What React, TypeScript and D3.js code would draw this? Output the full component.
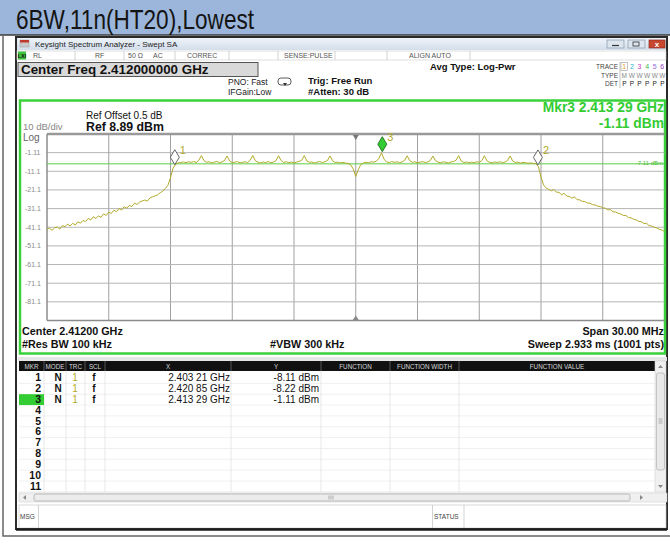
import React, { Component } from 'react'
import * as d3 from 'd3'

const W = 670
const H = 550

const titleText = '6BW,11n(HT20),Lowest'

const centerGHz = 2.412
const spanMHz = 30
const refLevel = 8.89
const dbPerDiv = 10
const levelLabels = ['-1.11', '-11.1', '-21.1', '-31.1', '-41.1', '-51.1', '-61.1', '-71.1', '-81.1']
const displayLine = -7.11

// trace, one value every 0.125 MHz from the start freq (8 per MHz row)
const stepMHz = 0.125
const traceLevels = [
	-42.3, -41.6, -42.8, -41.3, -41.0, -42.1, -40.2, -40.9,
	-39.4, -40.4, -39.0, -39.9, -38.2, -38.9, -37.4, -38.1,
	-36.4, -37.2, -35.5, -36.4, -35.0, -35.8, -33.9, -34.8,
	-33.0, -33.7, -32.0, -32.8, -31.0, -31.9, -30.1, -30.9,
	-29.4, -30.0, -28.2, -28.9, -27.6, -27.0, -26.5, -27.1,
	-25.4, -24.8, -24.3, -23.7, -22.6, -21.8, -20.3, -18.6,
	-14.5, -9.4, -7.3, -6.6, -6.4, -6.1, -6.5, -6.0,
	-6.3, -5.9, -6.4, -5.2, -2.7, -5.4, -6.3, -6.0,
	-6.6, -6.2, -5.8, -6.4, -6.1, -5.3, -2.9, -5.6,
	-6.5, -6.2, -5.9, -6.6, -6.3, -6.0, -6.4, -5.1,
	-2.6, -5.5, -6.2, -6.7, -6.1, -6.4, -5.9, -6.5,
	-6.2, -5.4, -2.8, -5.3, -6.4, -6.0, -6.5, -6.1,
	-6.6, -6.2, -5.8, -5.2, -2.7, -5.6, -6.3, -6.1,
	-6.7, -6.2, -5.9, -6.4, -6.0, -5.3, -2.9, -5.5,
	-6.4, -6.2, -6.6, -6.3, -6.7, -6.9, -7.6, -9.8,
	-13.9, -10.2, -7.4, -6.6, -6.3, -6.5, -6.0, -6.2,
	-5.7, -4.2, -1.2, -4.6, -6.1, -6.4, -5.9, -6.3,
	-6.0, -6.5, -6.1, -5.2, -2.8, -5.5, -6.3, -6.0,
	-6.6, -6.2, -5.9, -6.4, -6.1, -5.3, -2.9, -5.4,
	-6.2, -6.5, -6.0, -6.3, -6.7, -6.1, -5.9, -5.1,
	-2.7, -5.6, -6.4, -6.1, -6.6, -6.2, -6.5, -6.0,
	-6.3, -5.4, -2.8, -5.5, -6.3, -6.6, -6.1, -6.4,
	-6.0, -6.5, -6.2, -5.3, -2.9, -5.6, -6.4, -6.2,
	-6.7, -6.3, -6.5, -6.8, -6.6, -6.9, -7.0, -8.6,
	-14.2, -18.4, -20.1, -20.8, -21.6, -20.8, -22.3, -22.4,
	-23.7, -22.9, -24.4, -24.6, -25.5, -24.8, -26.3, -26.4,
	-27.2, -27.3, -28.1, -28.2, -29.0, -29.1, -29.8, -30.0,
	-30.7, -30.9, -31.8, -31.7, -32.8, -32.9, -33.6, -34.0,
	-34.8, -34.8, -35.9, -36.1, -36.8, -37.2, -38.0, -38.1,
	-39.1, -39.0, -40.2, -40.4, -41.1, -41.5, -42.2, -42.6,
	-43.4
]

const markerIds = ['1', '2', '3']
const markerGHz = [2.40321, 2.42085, 2.41329]
const markerDbm = [-8.11, -8.22, -1.11]
const markerXText = ['2.403 21 GHz', '2.420 85 GHz', '2.413 29 GHz']
const markerYText = ['-8.11 dBm', '-8.22 dBm', '-1.11 dBm']
const activeMarker = 2

const tableHeads = ['MKR', 'MODE', 'TRC', 'SCL', 'X', 'Y', 'FUNCTION', 'FUNCTION WIDTH', 'FUNCTION VALUE']
const tableRowCount = 11

const FONT = '"Liberation Sans", Arial, sans-serif'

export default class App extends Component {
	componentDidMount () {
		const root = d3.select(this.container)
		root.selectAll('*').remove()

		const svg = root.append('svg')
			.attr('width', W)
			.attr('height', H)
			.style('position', 'absolute')
			.style('left', 0)
			.style('top', 0)
			.style('background', '#fff')
			.attr('font-family', FONT)

		const text = (g, x, y, s, size, o = {}) => {
			const t = g.append('text')
				.attr('x', x)
				.attr('y', y)
				.attr('font-size', size)
				.attr('fill', o.fill || '#111')
				.attr('text-anchor', o.anchor || 'start')
				.text(s)
			if (o.bold) t.attr('font-weight', 'bold')
			if (o.len) t.attr('textLength', o.len).attr('lengthAdjust', 'spacingAndGlyphs')
			return t
		}
		const rect = (g, x, y, w, h, fill, stroke, sw = 1) => g.append('rect')
			.attr('x', x).attr('y', y).attr('width', w).attr('height', h)
			.attr('fill', fill).attr('stroke', stroke || 'none').attr('stroke-width', sw)
		const line = (g, x1, y1, x2, y2, stroke, sw = 1) => g.append('line')
			.attr('x1', x1).attr('y1', y1).attr('x2', x2).attr('y2', y2)
			.attr('stroke', stroke).attr('stroke-width', sw)

		const defs = svg.append('defs')
		const grad = defs.append('linearGradient').attr('id', 'tbar').attr('x1', 0).attr('y1', 0).attr('x2', 0).attr('y2', 1)
		grad.append('stop').attr('offset', '0%').attr('stop-color', '#eef3f9')
		grad.append('stop').attr('offset', '100%').attr('stop-color', '#d3deeb')

		// slide title strip
		rect(svg, 0, 0, W, 35, '#9bb6da')
		line(svg, 0, 35, W, 35, '#3a3a3a', 1.5)
		text(svg, 16, 29, titleText, 28, { fill: '#141414', len: 238 })

		// outer frame
		svg.append('path').attr('d', 'M3,35 V536 H670').attr('fill', 'none').attr('stroke', '#666').attr('stroke-width', 1.5)

		// analyzer window
		rect(svg, 16, 37, 651, 492, '#fff', '#2a2a2a', 2)
		rect(svg, 17, 38, 649, 12, 'url(#tbar)')
		rect(svg, 20, 40, 9, 7, '#c9c9c9', '#999', 0.5)
		rect(svg, 20, 40, 9, 2.5, '#c0392b')
		text(svg, 35, 47, 'Keysight Spectrum Analyzer - Swept SA', 8, { fill: '#222' })
		rect(svg, 607, 40, 17, 8, '#dde5ef', '#8797ab', 0.7)
		line(svg, 612, 45.5, 619, 45.5, '#333', 1.2)
		rect(svg, 628, 40, 17, 8, '#dde5ef', '#8797ab', 0.7)
		rect(svg, 633, 42, 6, 4, 'none', '#333', 0.8)
		rect(svg, 649, 40, 16, 8, '#c8482f', '#8a2a1a', 0.7)
		text(svg, 657, 47, 'x', 8, { fill: '#fff', anchor: 'middle', bold: true })

		// status row
		rect(svg, 17, 51, 649, 9, '#fff', '#c8c8c8', 0.6)
		rect(svg, 18, 51.5, 8, 8, '#3fc43f')
		text(svg, 22, 58, 'LXI', 5.5, { fill: '#111', anchor: 'middle', bold: true })
		const statusSeps = [75, 124, 175, 229, 278, 335, 387, 470]
		statusSeps.forEach(x => line(svg, x, 51, x, 60, '#c8c8c8', 0.8))
		const statusTexts = [['RL', 33], ['RF', 95], ['50 \u03a9', 128], ['AC', 153], ['CORREC', 187], ['SENSE:PULSE', 284], ['ALIGN AUTO', 409]]
		statusTexts.forEach(([s, x]) => text(svg, x, 58, s, 7, { fill: '#555' }))

		// settings header
		rect(svg, 18, 62.5, 240, 14, '#d9d9d9', '#555', 1)
		text(svg, 21, 74, 'Center Freq 2.412000000 GHz', 13.4, { bold: true })
		text(svg, 228, 85, 'PNO: Fast', 8.5, { fill: '#222' })
		text(svg, 228, 95, 'IFGain:Low', 8.5, { fill: '#222' })
		rect(svg, 278, 78, 13, 7, '#fff', '#333', 0.8).attr('rx', 3)
		svg.append('path').attr('d', 'M283,83 L287,83 L285,86 Z').attr('fill', '#333')
		text(svg, 308, 84, 'Trig: Free Run', 9.5, { bold: true })
		text(svg, 308, 95, '#Atten: 30 dB', 9.5, { bold: true })
		text(svg, 430, 70, 'Avg Type: Log-Pwr', 9.5, { bold: true })

		text(svg, 618, 69, 'TRACE', 6.5, { fill: '#444', anchor: 'end' })
		text(svg, 618, 78, 'TYPE', 6.5, { fill: '#444', anchor: 'end' })
		text(svg, 618, 86, 'DET', 6.5, { fill: '#444', anchor: 'end' })
		line(svg, 620, 62, 620, 88, '#aaa', 0.7)
		rect(svg, 621, 62.5, 6.5, 8, 'none', '#999', 0.6)
		const traceCols = ['#e8a21c', '#1fb2c8', '#c43cc4', '#3fb34f', '#8e6ad6', '#9a45c8']
		traceCols.forEach((c, i) => {
			const x = 624.3 + i * 7.6
			text(svg, x, 69, String(i + 1), 7, { fill: c, anchor: 'middle' })
			text(svg, x, 78, i === 0 ? 'M' : 'W', 6.5, { fill: '#888', anchor: 'middle' })
			text(svg, x, 86, 'P', 6.5, { fill: '#222', anchor: 'middle' })
		})

		// display frame
		rect(svg, 20, 100.5, 645, 253, '#fff', '#3ad13a', 2.5)
		text(svg, 664, 112, 'Mkr3 2.413 29 GHz', 13.8, { bold: true, fill: '#33cc33', anchor: 'end' })
		text(svg, 664, 128, '-1.11 dBm', 13.8, { bold: true, fill: '#33cc33', anchor: 'end' })
		text(svg, 86, 119, 'Ref Offset 0.5 dB', 10, { fill: '#111' })
		text(svg, 86, 131, 'Ref 8.89 dBm', 12.3, { bold: true })
		text(svg, 23, 129.5, '10 dB/div', 9.5, { fill: '#888' })
		text(svg, 23, 140.5, 'Log', 10, { fill: '#666' })

		// scales
		const startGHz = centerGHz - spanMHz / 2000
		const stopGHz = centerGHz + spanMHz / 2000
		const x = d3.scaleLinear().domain([startGHz, stopGHz]).range([47, 664.5])
		const y = d3.scaleLinear().domain([refLevel, refLevel - 10 * dbPerDiv]).range([134, 320.5])

		const grid = svg.append('g')
		d3.range(1, 10).forEach(i => {
			const ly = y(refLevel - i * dbPerDiv)
			line(grid, 47, ly, 664.5, ly, '#b4b4b4', 1)
			const fx = x(startGHz + i * spanMHz / 10000)
			line(grid, fx, 134, fx, 320.5, '#a0a0a0', 1)
		})
		levelLabels.forEach((s, i) => {
			text(grid, 25, y(refLevel - (i + 1) * dbPerDiv) + 2.5, s, 7, { fill: '#8a8a8a' })
		})
		line(grid, 47, 134, 664.5, 134, '#999', 2.5)
		line(grid, 47, 320.5, 664.5, 320.5, '#8c8c8c', 1.5)
		line(grid, 47, 134, 47, 320.5, '#8c8c8c', 1.5)
		const cx = x(centerGHz)
		grid.append('path').attr('d', `M${cx - 3},135 L${cx + 3},135 L${cx},140 Z`).attr('fill', '#777')
		grid.append('path').attr('d', `M${cx - 3},320 L${cx + 3},320 L${cx},315.5 Z`).attr('fill', '#888')

		// display line
		line(svg, 47, y(displayLine), 664.5, y(displayLine), '#5ccc44', 1)
		text(svg, 663, y(displayLine) + 1, '-7.11 dBm', 6, { fill: '#44bb33', anchor: 'end' })

		// trace
		defs.append('clipPath').attr('id', 'plotclip')
			.append('rect').attr('x', 47).attr('y', 134).attr('width', 618).attr('height', 187)
		const traceLine = d3.line()
			.x((d, i) => x(startGHz + i * stepMHz / 1000))
			.y(d => y(d))
		svg.append('path')
			.datum(traceLevels)
			.attr('clip-path', 'url(#plotclip)')
			.attr('d', traceLine)
			.attr('fill', 'none')
			.attr('stroke', '#b3aa2a')
			.attr('stroke-width', 1)

		// markers
		markerIds.forEach((id, i) => {
			const mx = x(markerGHz[i])
			const tip = y(markerDbm[i]) - 1
			const active = i === activeMarker
			svg.append('path')
				.attr('d', `M${mx},${tip} L${mx + 4.5},${tip - 7.5} L${mx},${tip - 15} L${mx - 4.5},${tip - 7.5} Z`)
				.attr('fill', active ? '#33cc33' : '#fff')
				.attr('stroke', active ? '#1e6e1e' : '#555')
				.attr('stroke-width', 0.9)
			text(svg, mx + 5, tip - 11, id, 11, { fill: '#b3aa2a' })
		})

		// bottom annotations
		text(svg, 22, 335, 'Center 2.41200 GHz', 10.8, { bold: true })
		text(svg, 22, 347.5, '#Res BW 100 kHz', 10.8, { bold: true })
		text(svg, 270, 347.5, '#VBW 300 kHz', 10.8, { bold: true })
		text(svg, 664, 335, 'Span 30.00 MHz', 10.8, { bold: true, anchor: 'end' })
		text(svg, 664, 347.5, 'Sweep  2.933 ms (1001 pts)', 10.8, { bold: true, anchor: 'end' })

		// marker table
		const cols = [19, 44, 66, 85, 105, 231, 321, 390, 459, 655]
		const tbl = svg.append('g')
		rect(tbl, 18, 357, 649, 4, '#e6e6e6')
		rect(tbl, 19, 361, 636, 10, '#111')
		tableHeads.forEach((h, i) => {
			text(tbl, (cols[i] + cols[i + 1]) / 2, 368.5, h, 6.3, { fill: '#d8d8d8', anchor: 'middle' })
			if (i > 0) line(tbl, cols[i], 361, cols[i], 371, '#666', 0.8)
		})
		const rowTop = 372.5
		const rowH = 10.85
		d3.range(tableRowCount).forEach(r => {
			const ry = rowTop + r * rowH
			line(tbl, 19, ry + rowH, 655, ry + rowH, '#ececec', 0.8)
		})
		cols.slice(1, -1).forEach(c => line(tbl, c, 371, c, 492, '#e2e2e2', 0.8))
		rect(tbl, 19, rowTop + activeMarker * rowH, 25, rowH, '#33cc33')
		d3.range(tableRowCount).forEach(r => {
			const by = rowTop + r * rowH + 8.7
			text(tbl, 41, by, String(r + 1), 10.5, { bold: true, anchor: 'end' })
			if (r < markerIds.length) {
				text(tbl, 58, by, 'N', 10, { bold: true, anchor: 'middle' })
				text(tbl, 75, by, '1', 10, { fill: '#b3aa2a', anchor: 'middle' })
				text(tbl, 94, by, 'f', 10, { bold: true, anchor: 'middle' })
				text(tbl, 230, by, markerXText[r], 10, { anchor: 'end' })
				text(tbl, 319, by, markerYText[r], 10, { anchor: 'end' })
			}
		})

		// scroll bars
		rect(tbl, 655, 361, 11, 131, '#f0f0f0', '#cfcfcf', 0.6)
		tbl.append('path').attr('d', 'M658,368 L663,368 L660.5,365 Z').attr('fill', '#888')
		rect(tbl, 656.5, 373, 8, 97, '#e9e9e9', '#b0b0b0', 0.7).attr('rx', 2)
		d3.range(3).forEach(k => line(tbl, 658.5, 419 + k * 2, 662.5, 419 + k * 2, '#888', 0.6))
		tbl.append('path').attr('d', 'M658,485 L663,485 L660.5,488 Z').attr('fill', '#888')

		rect(tbl, 19, 493, 648, 9, '#f0f0f0', '#cfcfcf', 0.6)
		tbl.append('path').attr('d', 'M26,495 L26,500 L23,497.5 Z').attr('fill', '#888')
		rect(tbl, 34, 494, 596, 7, '#ececec', '#a8a8a8', 0.7).attr('rx', 2)
		d3.range(3).forEach(k => line(tbl, 329 + k * 2, 495.5, 329 + k * 2, 499.5, '#888', 0.6))
		tbl.append('path').attr('d', 'M640,495 L640,500 L643,497.5 Z').attr('fill', '#888')

		// message bar
		rect(tbl, 19, 505, 647, 23, '#fff', '#c8c8c8', 0.7)
		line(tbl, 38.5, 505, 38.5, 528, '#c8c8c8', 0.8)
		line(tbl, 432.5, 505, 432.5, 528, '#c8c8c8', 0.8)
		line(tbl, 464, 505, 464, 528, '#c8c8c8', 0.8)
		text(tbl, 20, 519, 'MSG', 6.5, { fill: '#444' })
		text(tbl, 434, 519, 'STATUS', 6.5, { fill: '#444' })
		line(svg, 16, 529.5, 667, 529.5, '#1a1a1a', 2.5)
	}

	render () {
		return (
			<div ref={ container => { this.container = container } }></div>
		)
	}
}
